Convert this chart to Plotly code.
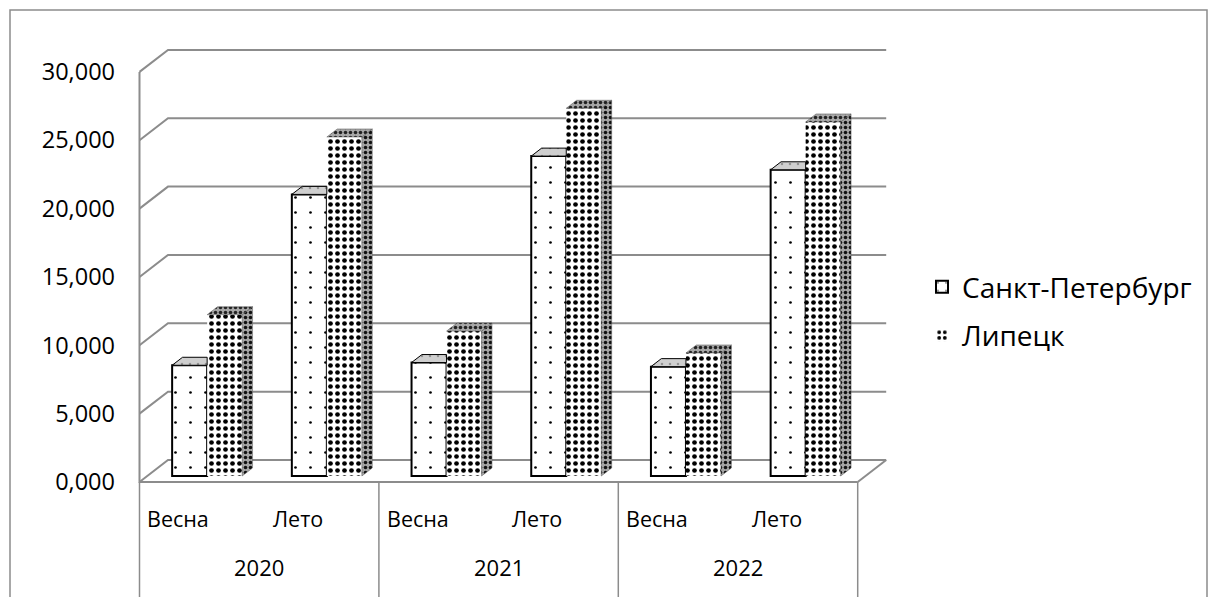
import plotly.graph_objects as go

# ---- data ----
years = ["2020", "2021", "2022"]
season_labels = ["Весна", "Лето", "Весна", "Лето", "Весна", "Лето"]
spb = [8.1, 20.6, 8.3, 23.4, 8.0, 22.4]
lipetsk = [11.8, 24.8, 10.6, 26.9, 9.0, 25.9]
series_names = ["Санкт-Петербург", "Липецк"]
y_ticks = [0, 5, 10, 15, 20, 25, 30]

# ---- oblique (pseudo-3D) projection, in pixels ----
FIG_W, FIG_H = 1213, 597
PLOT_L, PLOT_R, PLOT_T, PLOT_B = 138, 900, 40, 597
KX = 119.7            # px per category slot
KY = 13.67            # px per value unit
CAT0_PX = 207.15      # x pixel of first category centre on the column fronts
BASE_PX = 476.0       # y pixel of value 0 on the column fronts
FRONT = (-7.8, 6.0)   # front edge of the floor relative to the column fronts
BACK = (20.7, -16.0)  # back wall relative to the column fronts
DEPTH = (10.4, -8.0)  # depth of each column
BAR_W = 0.2925        # width of one column in category units
SEASON_SHIFT = -21    # px offset of the inner category labels

FONT = "Open Sans"
GRID = "#8c8c8c"

n = len(spb)
cats = list(range(n))


def shift(x, y, d):
    return x + d[0] / KX, y - d[1] / KY


def front_val(px):
    # value on the front plane for a given pixel row
    return (BASE_PX + FRONT[1] - px) / KY


x_range = [(PLOT_L - CAT0_PX) / KX, (PLOT_R - CAT0_PX) / KX]
y_range = [(BASE_PX - PLOT_B) / KY, (BASE_PX - PLOT_T) / KY]
y2_range = [(BASE_PX + FRONT[1] - PLOT_B) / KY, (BASE_PX + FRONT[1] - PLOT_T) / KY]

fig = go.Figure()

# front faces of the columns
fig.add_trace(go.Bar(
    x=cats, y=spb, name=series_names[0], legendgroup="a",
    marker=dict(color="white", line=dict(color="black", width=2),
                pattern=dict(shape=".", fgcolor="black", bgcolor="white", fgopacity=1,
                             size=15, solidity=0.025)),
    hoverinfo="skip",
))
fig.add_trace(go.Bar(
    x=cats, y=lipetsk, name=series_names[1], legendgroup="b",
    marker=dict(color="white", line=dict(width=0),
                pattern=dict(shape=".", fgcolor="black", bgcolor="white", fgopacity=1,
                             size=7, solidity=0.36)),
    hoverinfo="skip",
))

# top and side faces
ddx, ddy = DEPTH[0] / KX, -DEPTH[1] / KY
spb_top_x, spb_top_y = [], []
lip_top_x, lip_top_y = [], []
lip_side_x, lip_side_y = [], []
for c, h1, h2 in zip(cats, spb, lipetsk):
    x0, x1 = c - BAR_W, c
    spb_top_x += [x0, x1, x1, x0 + ddx, x0, None]
    spb_top_y += [h1, h1, h1 + ddy, h1 + ddy, h1, None]
    x0, x1 = c, c + BAR_W
    lip_top_x += [x0, x1, x1 + ddx, x0 + ddx, x0, None]
    lip_top_y += [h2, h2, h2 + ddy, h2 + ddy, h2, None]
    lip_side_x += [x1, x1, x1 + ddx, x1 + ddx, x1, None]
    lip_side_y += [0, h2, h2 + ddy, ddy, 0, None]

fig.add_trace(go.Scatter(
    x=spb_top_x, y=spb_top_y, mode="lines", fill="toself",
    line=dict(color="black", width=1), fillcolor="#c9c9c9",
    fillpattern=dict(shape=".", fgcolor="#555555", bgcolor="#cfcfcf", size=8, solidity=0.08),
    showlegend=False, hoverinfo="skip",
))
fig.add_trace(go.Scatter(
    x=lip_side_x, y=lip_side_y, mode="lines", fill="toself",
    line=dict(color="#555555", width=0.5),
    fillpattern=dict(shape=".", fgcolor="#111111", bgcolor="#a5a5a5", fgopacity=1,
                     size=5, solidity=0.4),
    showlegend=False, hoverinfo="skip",
))
fig.add_trace(go.Scatter(
    x=lip_top_x, y=lip_top_y, mode="lines", fill="toself",
    line=dict(color="#555555", width=0.5),
    fillpattern=dict(shape=".", fgcolor="#222222", bgcolor="#a8a8a8", fgopacity=1,
                     size=5, solidity=0.4),
    showlegend=False, hoverinfo="skip",
))

# front edge of the floor and the value axis line (front plane)
fl = -0.5 + FRONT[0] / KX
fr = n - 0.5 + FRONT[0] / KX
fig.add_trace(go.Scatter(
    x=[fl, fl, fr], y=[y_ticks[-1], 0, 0], yaxis="y2", mode="lines",
    line=dict(color=GRID, width=2), showlegend=False, hoverinfo="skip",
))

shapes = []
# back wall gridlines with the left wall diagonals
for v in y_ticks:
    ax, ay = shift(-0.5, v, FRONT)
    bx, by = shift(-0.5, v, BACK)
    cx, cy = shift(n - 0.5, v, BACK)
    shapes.append(dict(type="path", xref="x", yref="y", layer="below",
                       path=f"M{ax},{ay} L{bx},{by} L{cx},{cy}",
                       line=dict(color=GRID, width=2)))
# right edge of the floor
ax, ay = shift(n - 0.5, 0, FRONT)
bx, by = shift(n - 0.5, 0, BACK)
shapes.append(dict(type="line", xref="x", yref="y", layer="below",
                   x0=ax, y0=ay, x1=bx, y1=by, line=dict(color=GRID, width=2)))
# dividers of the year groups
for c in [-0.5, 1.5, 3.5, 5.5]:
    dx, dy = shift(c, 0, FRONT)
    shapes.append(dict(type="line", xref="x", yref="y", layer="below",
                       x0=dx, y0=dy, x1=dx, y1=y_range[0], line=dict(color=GRID, width=1.5)))
# chart border
shapes.append(dict(type="rect", xref="paper", yref="paper",
                   x0=(10 - PLOT_L) / (PLOT_R - PLOT_L), x1=(1207 - PLOT_L) / (PLOT_R - PLOT_L),
                   y0=-0.05, y1=(PLOT_B - 10) / (PLOT_B - PLOT_T),
                   line=dict(color=GRID, width=1.5)))

annotations = []
for c, lab in zip(cats, season_labels):
    annotations.append(dict(x=c + (FRONT[0] + SEASON_SHIFT) / KX, y=front_val(518),
                            xref="x", yref="y2", text=lab, showarrow=False,
                            font=dict(family=FONT, size=21.5, color="black")))
for g, yr in enumerate(years):
    annotations.append(dict(x=2 * g + 0.5 + FRONT[0] / KX, y=front_val(567), xref="x", yref="y2",
                            text=yr, showarrow=False,
                            font=dict(family=FONT, size=22, color="black")))

fig.update_layout(
    width=FIG_W, height=FIG_H,
    margin=dict(l=PLOT_L, r=FIG_W - PLOT_R, t=PLOT_T, b=FIG_H - PLOT_B, pad=0),
    paper_bgcolor="white", plot_bgcolor="white",
    separators=", ",
    barmode="group", bargap=1 - 2 * BAR_W, bargroupgap=0,
    xaxis=dict(range=x_range, visible=False, fixedrange=True),
    yaxis=dict(range=y_range, visible=False, fixedrange=True),
    yaxis2=dict(range=y2_range, overlaying="y", side="left", anchor="x",
                tickvals=y_ticks, tickformat=".3f", showgrid=False, zeroline=False,
                showline=False, ticks="", ticklabelstandoff=22,
                tickfont=dict(family=FONT, size=23.5, color="black")),
    showlegend=True,
    legend=dict(x=(922 - PLOT_L) / (PLOT_R - PLOT_L), y=(PLOT_B - 262) / (PLOT_B - PLOT_T),
                xanchor="left", yanchor="top", bgcolor="rgba(0,0,0,0)",
                font=dict(family=FONT, size=28, color="black"),
                tracegroupgap=9, itemwidth=30),
    shapes=shapes, annotations=annotations,
)

fig.write_html("out.html")
